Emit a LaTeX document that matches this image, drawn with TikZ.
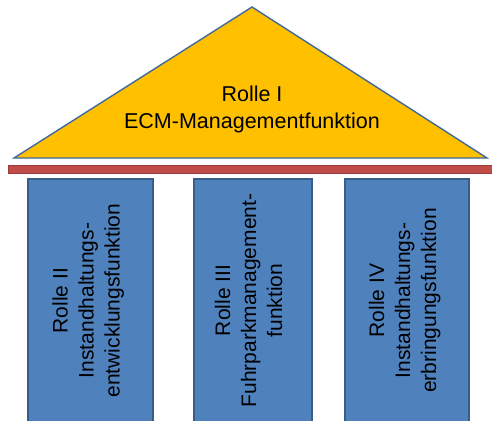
\documentclass[tikz,border=0pt]{standalone}
\usepackage{fontspec}
\setmainfont{Liberation Sans}
\usetikzlibrary{positioning}

\definecolor{roofgold}{RGB}{255,192,0}
\definecolor{roofline}{RGB}{65,105,155}
\definecolor{pillarblue}{RGB}{79,129,189}
\definecolor{pillarline}{RGB}{56,93,138}
\definecolor{beamred}{RGB}{192,75,72}

\begin{document}
\begin{tikzpicture}[x=1pt,y=-1pt,
% Roof style
    roof/.style={fill=roofgold,draw=roofline,line width=1.4pt,line join=miter},
% Beam style
    beam/.style={fill=beamred,draw=beamred!80!black,line width=0.6pt},
% Pillar style
    pillar/.style={rectangle,fill=pillarblue,draw=pillarline,line width=1.2pt,
		rotate=90,minimum width=243,align=center,inner sep=0pt,text depth=9pt,
		font={\fontsize{21pt}{26pt}\selectfont}},
    rooftext/.style={align=center,font={\fontsize{21.5pt}{27pt}\selectfont}}
    ]
  \useasboundingbox (0,0) rectangle (492,420);

  % roof
  \coordinate (top) at (252,7);
  \coordinate (left) at (14,158);
  \coordinate (right) at (487,158);
  \draw[roof] (left) -- (top) -- (right) -- cycle;
  \node (r1) [rooftext] at (252,109) {Rolle I\\ECM-Managementfunktion};

  % beam
  \fill[beam] (8,165) rectangle (494,173);

  % pillars
  \node (r2) [pillar,minimum height=125] at (90.5,300.5)
    {Rolle II\\Instandhaltungs-\\entwicklungsfunktion};
  \node (r3) [pillar,minimum height=118] at (253,300.5)
    {Rolle III\\Fuhrparkmanagement-\\funktion};
  \node (r4) [pillar,minimum height=124] at (407,300.5)
    {Rolle IV\\Instandhaltungs-\\erbringungsfunktion};

\end{tikzpicture}
\end{document}
